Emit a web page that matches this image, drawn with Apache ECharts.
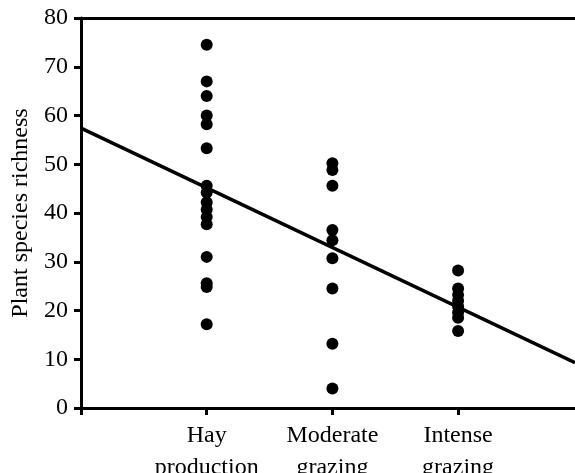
<!DOCTYPE html>
<html>
<head>
<meta charset="utf-8">
<script src="https://cdn.jsdelivr.net/npm/echarts@6/dist/echarts.min.js"></script>
<style>
  html, body { margin: 0; padding: 0; background: #fff; }
  #chart { width: 575px; height: 473px; }
</style>
</head>
<body>
<div id="chart"></div>
<script>
const categories = ['Hay\nproduction', 'Moderate\ngrazing', 'Intense\ngrazing'];
const yTicks = [0, 10, 20, 30, 40, 50, 60, 70, 80];

// richness values, one array per management type
const hayValues = [74.5, 67.0, 64.0, 60.0, 58.2, 53.3, 45.6, 44.2, 42.2, 40.7, 39.2, 37.7, 31.0, 25.6, 24.8, 17.2];
const moderateValues = [50.2, 48.8, 45.6, 36.5, 34.4, 30.7, 24.5, 13.2, 4.0];
const intenseValues = [28.2, 24.5, 23.2, 22.0, 20.8, 19.6, 18.5, 15.8];

// fitted line, ends at the axis edges
const fitX = [0, 3.93];
const fitY = [57.4, 9.3];

const points = [];
[hayValues, moderateValues, intenseValues].forEach((vals, i) => {
  vals.forEach((v) => points.push([i + 1, v]));
});

const font = 'Liberation Serif';
const chart = echarts.init(document.getElementById('chart'));

chart.setOption({
  animation: false,
  grid: { left: 81, right: 0, top: 18, bottom: 65, outerBoundsMode: 'none', containLabel: false },
  xAxis: [
    {
      type: 'value',
      min: 0,
      max: 3.93,
      interval: 1,
      splitLine: { show: false },
      axisLine: { lineStyle: { color: '#000', width: 3 } },
      axisTick: { length: 7, lineStyle: { color: '#000', width: 3 } },
      axisLabel: {
        showMaxLabel: false,
        color: '#000',
        fontFamily: font,
        fontSize: 24,
        lineHeight: 32,
        margin: 12,
        formatter: (v) => categories[v - 1] || '',
      },
    },
    {
      type: 'value',
      position: 'top',
      min: 0,
      max: 3.93,
      splitLine: { show: false },
      axisLine: { lineStyle: { color: '#000', width: 3 } },
      axisTick: { show: false },
      axisLabel: { show: false },
    },
  ],
  yAxis: {
    type: 'value',
    min: yTicks[0],
    max: yTicks[yTicks.length - 1],
    interval: 10,
    name: 'Plant species richness',
    nameLocation: 'middle',
    nameGap: 47,
    nameTextStyle: { color: '#000', fontFamily: font, fontSize: 24 },
    splitLine: { show: false },
    axisLine: { lineStyle: { color: '#000', width: 3 } },
    axisTick: { length: 7, lineStyle: { color: '#000', width: 3 } },
    axisLabel: { color: '#000', fontFamily: font, fontSize: 24, margin: 13 },
  },
  series: [
    {
      type: 'line',
      data: fitX.map((x, i) => [x, fitY[i]]),
      showSymbol: false,
      lineStyle: { color: '#000', width: 3.5 },
      z: 2,
    },
    {
      type: 'scatter',
      data: points,
      symbolSize: 12,
      itemStyle: { color: '#000', opacity: 1 },
      z: 3,
    },
  ],
});
</script>
</body>
</html>
